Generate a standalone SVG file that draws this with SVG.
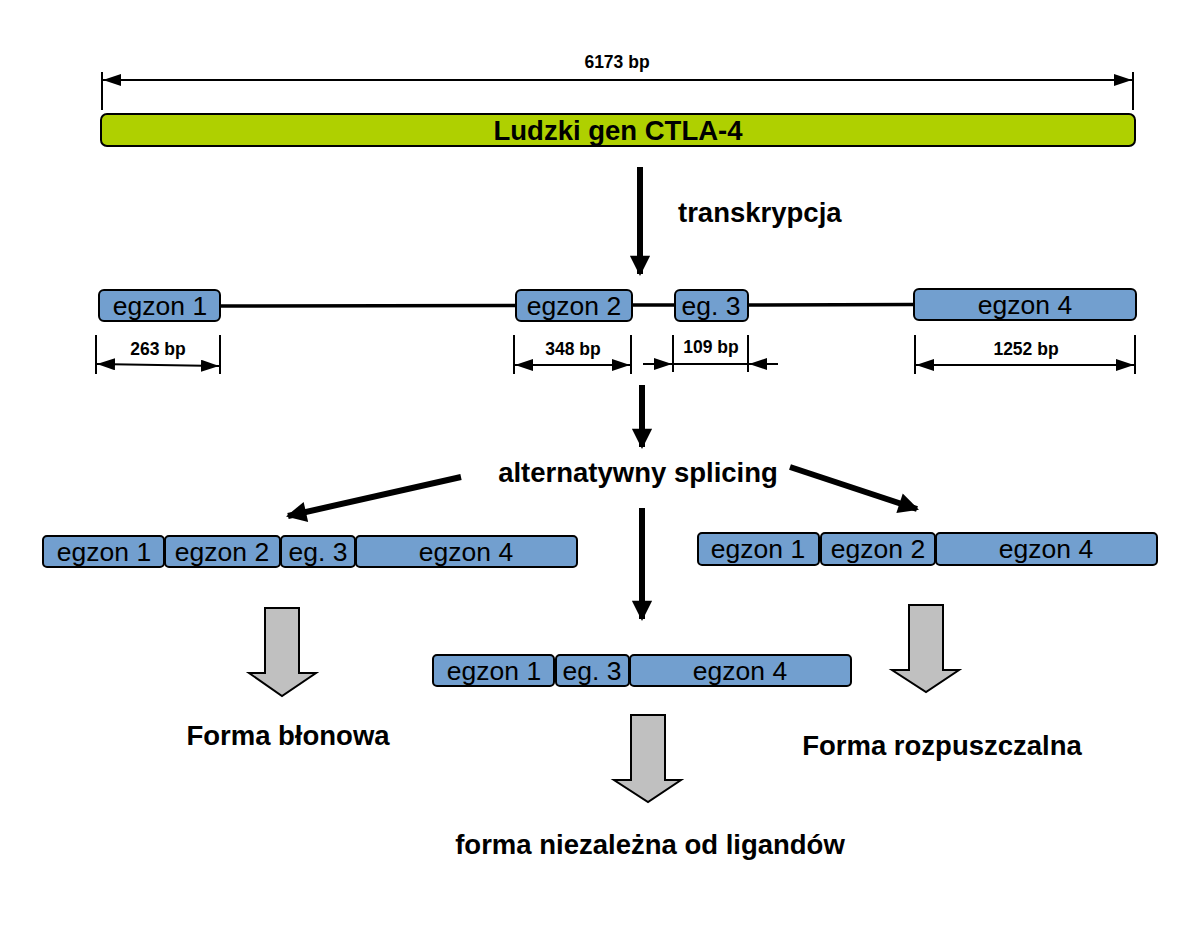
<svg xmlns="http://www.w3.org/2000/svg" width="1200" height="928" viewBox="0 0 1200 928">
<defs>
<marker id="ah" viewBox="0 0 18 12" refX="18" refY="6" markerWidth="18" markerHeight="12" markerUnits="userSpaceOnUse" orient="auto-start-reverse"><path d="M0,0 L18,6 L0,12 z" fill="#000"/></marker>
<marker id="bh" viewBox="0 0 10 10" refX="9" refY="5" markerWidth="3.6" markerHeight="3.4" orient="auto"><path d="M0,0 L10,5 L0,10 z" fill="#000"/></marker>
<style>
.ex{fill:#729fcf;stroke:#000;stroke-width:2}
.et{font-family:"Liberation Sans",Arial,sans-serif;font-size:26.5px;text-anchor:middle;fill:#000}
.bl{font-family:"Liberation Sans",Arial,sans-serif;font-size:27.5px;font-weight:bold;fill:#000}
.dt{font-family:"Liberation Sans",Arial,sans-serif;font-size:17.5px;font-weight:bold;text-anchor:middle;fill:#000}
.dim{stroke:#000;stroke-width:2;fill:none}
.thick{stroke:#000;stroke-width:6;fill:none;marker-end:url(#bh)}
.gray{fill:#c0c0c0;stroke:#000;stroke-width:2;stroke-linejoin:miter}
</style>
</defs>

<g id="connectors">
<!-- top dimension -->
<line class="dim" x1="102" y1="72" x2="102" y2="110"/>
<line class="dim" x1="1133" y1="72" x2="1133" y2="110"/>
<line class="dim" x1="103" y1="80" x2="1132" y2="80" marker-start="url(#ah)" marker-end="url(#ah)"/>
<!-- introns -->
<line x1="220" y1="306" x2="516" y2="305.5" stroke="#000" stroke-width="3.5"/>
<line x1="632" y1="305" x2="675" y2="305" stroke="#000" stroke-width="3.5"/>
<line x1="748" y1="305" x2="914" y2="304.5" stroke="#000" stroke-width="3.5"/>
<!-- exon dims -->
<line class="dim" x1="96" y1="335" x2="96" y2="374"/>
<line class="dim" x1="220" y1="335" x2="220" y2="374"/>
<line class="dim" x1="97" y1="364" x2="219" y2="366" marker-start="url(#ah)" marker-end="url(#ah)"/>
<line class="dim" x1="514" y1="335" x2="514" y2="374"/>
<line class="dim" x1="631" y1="335" x2="631" y2="374"/>
<line class="dim" x1="515" y1="365" x2="630" y2="365" marker-start="url(#ah)" marker-end="url(#ah)"/>
<line class="dim" x1="673" y1="335" x2="673" y2="372"/>
<line class="dim" x1="748" y1="335" x2="748" y2="372"/>
<line class="dim" x1="673" y1="364" x2="748" y2="364"/>
<line class="dim" x1="643" y1="364" x2="672" y2="364" marker-end="url(#ah)"/>
<line class="dim" x1="778" y1="364" x2="749" y2="364" marker-end="url(#ah)"/>
<line class="dim" x1="915" y1="335" x2="915" y2="374"/>
<line class="dim" x1="1135" y1="335" x2="1135" y2="374"/>
<line class="dim" x1="916" y1="365" x2="1134" y2="365" marker-start="url(#ah)" marker-end="url(#ah)"/>
<!-- flow arrows -->
<line class="thick" x1="640" y1="167" x2="640" y2="274"/>
<line class="thick" x1="642" y1="385" x2="642" y2="447"/>
<line class="thick" x1="461" y1="477" x2="288" y2="516"/>
<line class="thick" x1="790" y1="467" x2="917" y2="509"/>
<line class="thick" x1="642" y1="508" x2="642" y2="619"/>
<!-- gray block arrows -->
<path class="gray" d="M265,608 L299,608 L299,673 L316,673 L282,696 L249,673 L265,673 Z"/>
<path class="gray" d="M631,715 L665,715 L665,780 L681,780 L648,802 L614,780 L631,780 Z"/>
<path class="gray" d="M909,605 L943,605 L943,670 L959,670 L926,692 L892,670 L909,670 Z"/>
</g>

<g id="gene">
<rect x="101" y="114" width="1034" height="32" rx="6" fill="#afd000" stroke="#000" stroke-width="2"/>
<text class="bl" x="618" y="140" text-anchor="middle">Ludzki gen CTLA-4</text>
</g>
<g id="label-6173"><text class="dt" x="617" y="68">6173 bp</text></g>
<g id="label-transkrypcja"><text class="bl" x="678" y="222">transkrypcja</text></g>

<g id="pre-egzon1"><rect class="ex" x="99" y="290" width="121" height="31" rx="5"/><text class="et" x="160" y="315">egzon 1</text></g>
<g id="pre-egzon2"><rect class="ex" x="516" y="290" width="116" height="31" rx="5"/><text class="et" x="574" y="315">egzon 2</text></g>
<g id="pre-eg3"><rect class="ex" x="675" y="290" width="73" height="31" rx="5"/><text class="et" x="711" y="315">eg. 3</text></g>
<g id="pre-egzon4"><rect class="ex" x="914" y="289" width="222" height="31" rx="5"/><text class="et" x="1025" y="314">egzon 4</text></g>

<g id="dim-263"><text class="dt" x="158" y="355">263 bp</text></g>
<g id="dim-348"><text class="dt" x="573" y="355">348 bp</text></g>
<g id="dim-109"><text class="dt" x="711" y="353">109 bp</text></g>
<g id="dim-1252"><text class="dt" x="1026" y="355">1252 bp</text></g>

<g id="label-splicing"><text class="bl" x="638" y="482" text-anchor="middle">alternatywny splicing</text></g>

<g id="left-transcript">
<rect class="ex" x="43" y="536" width="121" height="31" rx="4"/><text class="et" x="104" y="561">egzon 1</text>
<rect class="ex" x="165" y="536" width="115" height="31" rx="4"/><text class="et" x="222" y="561">egzon 2</text>
<rect class="ex" x="281" y="536" width="74" height="31" rx="4"/><text class="et" x="318" y="561">eg. 3</text>
<rect class="ex" x="356" y="536" width="221" height="31" rx="4"/><text class="et" x="466" y="561">egzon 4</text>
</g>
<g id="right-transcript">
<rect class="ex" x="698" y="533" width="121" height="32" rx="4"/><text class="et" x="758" y="558">egzon 1</text>
<rect class="ex" x="821" y="533" width="114" height="32" rx="4"/><text class="et" x="878" y="558">egzon 2</text>
<rect class="ex" x="936" y="533" width="221" height="32" rx="4"/><text class="et" x="1046" y="558">egzon 4</text>
</g>
<g id="middle-transcript">
<rect class="ex" x="433" y="655" width="121" height="31" rx="4"/><text class="et" x="494" y="680">egzon 1</text>
<rect class="ex" x="556" y="655" width="73" height="31" rx="4"/><text class="et" x="592" y="680">eg. 3</text>
<rect class="ex" x="630" y="655" width="221" height="31" rx="4"/><text class="et" x="740" y="680">egzon 4</text>
</g>

<g id="label-blonowa"><text class="bl" x="288" y="745" text-anchor="middle">Forma błonowa</text></g>
<g id="label-rozpuszczalna"><text class="bl" x="942" y="755" text-anchor="middle">Forma rozpuszczalna</text></g>
<g id="label-niezalezna"><text class="bl" x="650" y="854" text-anchor="middle">forma niezależna od ligandów</text></g>
</svg>
